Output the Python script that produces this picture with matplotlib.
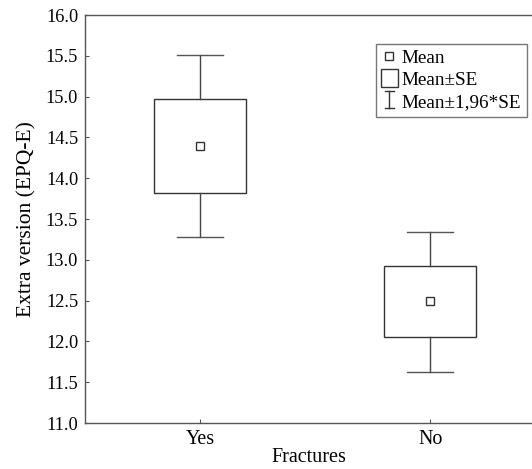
import matplotlib
matplotlib.use('Agg')
import matplotlib.pyplot as plt
import matplotlib.patches as mpatches
import matplotlib.lines as mlines
from matplotlib.legend_handler import HandlerBase

plt.rcParams['font.family'] = ['Liberation Serif', 'DejaVu Serif']

groups = ['Yes', 'No']
means = [14.40, 12.50]
se_low = [13.82, 12.05]
se_high = [14.97, 12.92]
ci_low = [13.28, 11.63]
ci_high = [15.51, 13.34]


class HandlerIBeam(HandlerBase):
    def create_artists(self, legend, orig_handle,
                       xdescent, ydescent, width, height, fontsize, trans):
        cx = 0.5 * width - xdescent
        y0 = -ydescent
        y1 = height - ydescent + 2
        hw = 0.3 * width
        arts = [mlines.Line2D([cx, cx], [y0, y1]),
                mlines.Line2D([cx - hw, cx + hw], [y0, y0]),
                mlines.Line2D([cx - hw, cx + hw], [y1, y1])]
        for a in arts:
            a.set_color('#333333')
            a.set_linewidth(1.0)
            a.set_transform(trans)
        return arts


class HandlerSquare(HandlerBase):
    def create_artists(self, legend, orig_handle,
                       xdescent, ydescent, width, height, fontsize, trans):
        s = height + 3
        cx = 0.5 * width - xdescent
        p = mpatches.Rectangle((cx - s / 2, -ydescent - 1), s, s,
                               facecolor='white', edgecolor='#333333', lw=1.0)
        p.set_transform(trans)
        return [p]


fig = plt.figure(figsize=(5.32, 4.69), dpi=100)
ax = fig.add_axes([0.16, 0.098, 0.84, 0.870])

bw = 0.2
cw = 0.1
for i in range(len(groups)):
    # whiskers
    ax.plot([i, i], [se_high[i], ci_high[i]], color='#444444', lw=1.0)
    ax.plot([i, i], [ci_low[i], se_low[i]], color='#444444', lw=1.0)
    ax.plot([i - cw, i + cw], [ci_high[i], ci_high[i]], color='#555555', lw=1.0)
    ax.plot([i - cw, i + cw], [ci_low[i], ci_low[i]], color='#555555', lw=1.0)
    # box
    ax.add_patch(mpatches.Rectangle((i - bw, se_low[i]), 2 * bw, se_high[i] - se_low[i],
                                    facecolor='white', edgecolor='#333333', lw=1.0))
    ax.plot([i], [means[i]], marker='s', ms=5.5, mfc='white', mec='#333333', mew=1.0)

ax.set_xlim(-0.5, 1.443)
ax.set_ylim(11.0, 16.0)
ax.set_yticks([11.0 + 0.5 * k for k in range(11)])
ax.set_yticklabels(['%.1f' % (11.0 + 0.5 * k) for k in range(11)])
ax.set_xticks(range(len(groups)))
ax.set_xticklabels(groups)
ax.tick_params(direction='in', length=3, width=0.8, color='#555555')
ax.tick_params(axis='y', labelsize=13.2, pad=5)
ax.tick_params(axis='x', labelsize=14.4, pad=5)
for s in ['left', 'bottom', 'top']:
    ax.spines[s].set_color('#555555')
    ax.spines[s].set_linewidth(1.0)
ax.spines['right'].set_visible(False)

ax.set_xlabel('Fractures', fontsize=14.5, labelpad=-1)
ax.set_ylabel('Extra version (EPQ-E)', fontsize=15.5, labelpad=7)

h_mean = mlines.Line2D([], [], ls='none', marker='s', ms=5.5, mfc='white',
                       mec='#333333', mew=1.0, label='Mean')
h_se = mpatches.Rectangle((0, 0), 1, 1, label='Mean\u00b1SE')
h_ci = mpatches.Circle((0, 0), 1, label='Mean\u00b11,96*SE')
leg = ax.legend(handles=[h_mean, h_se, h_ci],
                handler_map={mpatches.Rectangle: HandlerSquare(),
                             mpatches.Circle: HandlerIBeam()},
                loc='upper right', bbox_to_anchor=(0.989, 0.929),
                fontsize=13.8, frameon=True, fancybox=False,
                handlelength=0.8, handletextpad=0.25, labelspacing=0.25,
                borderpad=0.3, borderaxespad=0)
leg.get_frame().set_edgecolor('#555555')
leg.get_frame().set_linewidth(1.0)

plt.savefig('out.png', dpi=100)
